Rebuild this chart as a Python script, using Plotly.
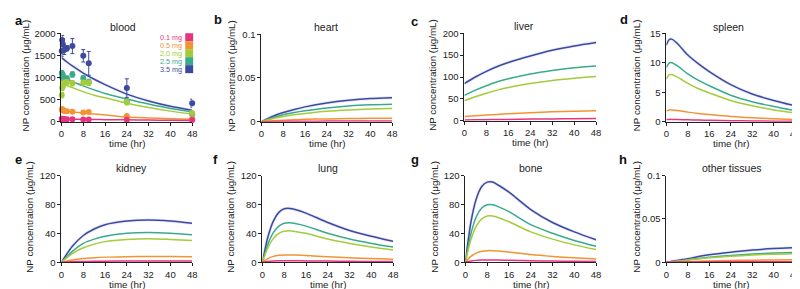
import plotly.graph_objects as go

W, H = 800, 289
FONT = "Liberation Sans"

doses = ["0.1 mg", "0.5 mg", "2.0 mg", "2.5 mg", "3.5 mg"]
colors = ["#E8337E", "#F39332", "#A3CB3B", "#3AAA8D", "#3B4A9F"]

# ---- blood observed data ----
t_obs = [0.083, 0.25, 0.5, 1, 2, 4, 8, 10, 24, 48]
blood_obs = {
    "0.1 mg": [70, 65, 62, 60, 58, 55, 50, 50, 45, 42],
    "0.5 mg": [270, 290, 260, 240, 235, 225, 210, 220, 130, 60],
    "2.0 mg": [600, 760, 800, 880, 900, 870, 880, 880, 440, 200],
    "2.5 mg": [1100, 1000, 1050, 950, 980, 1070, 980, 900, 460, 170],
    "3.5 mg": [1600, 1850, 1750, 1620, 1660, 1710, 1490, 1320, 760, 420],
}
blood_err = {
    "0.1 mg": [10, 10, 10, 10, 10, 10, 10, 10, 10, 10],
    "0.5 mg": [30, 30, 30, 30, 20, 20, 20, 20, 30, 20],
    "2.0 mg": [60, 60, 60, 60, 50, 60, 60, 60, 60, 40],
    "2.5 mg": [60, 60, 60, 60, 50, 60, 60, 60, 60, 40],
    "3.5 mg": [120, 100, 120, 100, 60, 170, 140, 270, 210, 90],
}

# ---- model curves ----
t_blood = [0, 2, 4, 8, 12, 16, 24, 32, 40, 48]
blood_fit = {
    "0.1 mg": [60, 58, 56, 53, 50, 47, 43, 38, 34, 30],
    "0.5 mg": [260, 240, 225, 195, 175, 155, 105, 85, 70, 58],
    "2.0 mg": [880, 820, 770, 680, 600, 540, 420, 320, 240, 175],
    "2.5 mg": [1030, 970, 910, 810, 720, 640, 515, 400, 300, 225],
    "3.5 mg": [1450, 1350, 1260, 1100, 960, 840, 625, 470, 350, 260],
}

t_rise = [0, 4, 8, 12, 16, 24, 32, 40, 48]
heart_fit = {
    "0.1 mg": [0, 0.0002, 0.0004, 0.0005, 0.0006, 0.0007, 0.0008, 0.0008, 0.0008],
    "0.5 mg": [0, 0.001, 0.0017, 0.0022, 0.0027, 0.0032, 0.0036, 0.0039, 0.004],
    "2.0 mg": [0, 0.0035, 0.006, 0.008, 0.0095, 0.012, 0.0135, 0.0145, 0.015],
    "2.5 mg": [0, 0.0045, 0.008, 0.0105, 0.0125, 0.0158, 0.018, 0.0193, 0.020],
    "3.5 mg": [0, 0.006, 0.0105, 0.014, 0.017, 0.0215, 0.0245, 0.0265, 0.0275],
}
liver_fit = {
    "0.1 mg": [2, 2.3, 2.6, 2.9, 3.2, 3.8, 4.3, 4.7, 5],
    "0.5 mg": [10, 11.5, 13, 14.5, 16, 18.5, 20.5, 22, 23],
    "2.0 mg": [46, 55, 63, 70, 76, 85, 92, 97, 101],
    "2.5 mg": [58, 70, 80, 89, 96, 107, 115, 121, 125],
    "3.5 mg": [85, 100, 113, 124, 133, 148, 161, 171, 179],
}
kidney_fit = {
    "0.1 mg": [0, 0.6, 1, 1.2, 1.4, 1.6, 1.6, 1.6, 1.5],
    "0.5 mg": [0, 3, 5, 6.2, 7, 7.7, 8, 7.9, 7.5],
    "2.0 mg": [0, 12, 20, 25, 28.5, 31.5, 32.5, 31.5, 30],
    "2.5 mg": [0, 15, 26, 32, 36, 40, 41, 40, 38],
    "3.5 mg": [0, 22, 37, 46, 52, 57, 58.5, 57, 54],
}
other_fit = {
    "0.1 mg": [0, 0.0001, 0.0002, 0.0003, 0.0004, 0.0005, 0.0005, 0.0006, 0.0006],
    "0.5 mg": [0, 0.0003, 0.0007, 0.0011, 0.0014, 0.0019, 0.0023, 0.0026, 0.0028],
    "2.0 mg": [0, 0.0012, 0.0024, 0.0038, 0.005, 0.0068, 0.0082, 0.0092, 0.0098],
    "2.5 mg": [0, 0.0014, 0.0028, 0.0044, 0.0058, 0.0078, 0.0095, 0.0107, 0.0114],
    "3.5 mg": [0, 0.002, 0.004, 0.0065, 0.0085, 0.0115, 0.014, 0.0157, 0.0167],
}

t_spleen = [0, 1, 2, 4, 8, 12, 16, 24, 32, 40, 48]
spleen_fit = {
    "0.1 mg": [0.37, 0.4, 0.4, 0.38, 0.33, 0.28, 0.24, 0.18, 0.14, 0.1, 0.08],
    "0.5 mg": [1.8, 2.0, 2.0, 1.9, 1.63, 1.4, 1.22, 0.9, 0.68, 0.5, 0.38],
    "2.0 mg": [7.2, 7.95, 8.0, 7.6, 6.5, 5.6, 4.9, 3.6, 2.7, 2.0, 1.5],
    "2.5 mg": [9.2, 9.95, 10.0, 9.5, 8.1, 7.0, 6.1, 4.5, 3.4, 2.6, 1.9],
    "3.5 mg": [13.0, 13.9, 14.0, 13.3, 11.3, 9.8, 8.5, 6.3, 4.7, 3.6, 2.7],
}

t_peak = [0, 2, 4, 6, 8, 10, 12, 16, 24, 32, 40, 48]
lung_fit = {
    "0.1 mg": [0, 1, 1.6, 1.9, 2, 2, 2, 1.8, 1.5, 1.2, 1, 0.8],
    "0.5 mg": [0, 5, 8, 9.5, 10, 10, 9.8, 9.2, 7.5, 6, 5, 4],
    "2.0 mg": [0, 20, 33, 40, 43, 43.5, 42.5, 40, 32, 26, 21, 17],
    "2.5 mg": [0, 25, 41, 50, 54, 54.5, 53.5, 50, 40, 32, 26, 21],
    "3.5 mg": [0, 35, 57, 69, 74, 74.5, 73, 68, 55, 44, 36, 29],
}
bone_fit = {
    "0.1 mg": [0, 1.5, 2.5, 2.9, 3.1, 3.1, 3, 2.7, 2, 1.6, 1.2, 0.9],
    "0.5 mg": [0, 8, 12.5, 15, 16, 16, 15.5, 14, 10.5, 8, 6, 4.4],
    "2.0 mg": [0, 31, 50, 60, 64, 64, 62, 56, 42, 32, 24, 17.5],
    "2.5 mg": [0, 39, 63, 75, 79.5, 79.5, 77, 70, 52, 40, 30, 22],
    "3.5 mg": [0, 55, 88, 105, 111, 111, 107, 97, 73, 55, 42, 31],
}

panels = [
    ("a", "blood", t_blood, blood_fit, [0, 500, 1000, 1500, 2000], ["0", "500", "1000", "1500", "2000"], 2000),
    ("b", "heart", t_rise, heart_fit, [0, 0.05, 0.1], ["0", "0.05", "0.1"], 0.1),
    ("c", "liver", t_rise, liver_fit, [0, 50, 100, 150, 200], ["0", "50", "100", "150", "200"], 200),
    ("d", "spleen", t_spleen, spleen_fit, [0, 5, 10, 15], ["0", "5", "10", "15"], 15),
    ("e", "kidney", t_rise, kidney_fit, [0, 40, 80, 120], ["0", "40", "80", "120"], 120),
    ("f", "lung", t_peak, lung_fit, [0, 40, 80, 120], ["0", "40", "80", "120"], 120),
    ("g", "bone", t_peak, bone_fit, [0, 40, 80, 120], ["0", "40", "80", "120"], 120),
    ("h", "other tissues", t_rise, other_fit, [0, 0.05, 0.1], ["0", "0.05", "0.1"], 0.1),
]
x_ticks = [0, 8, 16, 24, 32, 40, 48]

# pixel layout of plot areas (left, right, top, bottom)
boxes = [
    (51, 183, 20, 112), (253, 385, 21, 112), (458, 591, 20, 111), (662, 792, 20, 112),
    (51, 183, 168, 258), (254, 386, 168, 258), (459, 591, 168, 258), (662, 792, 168, 258),
]
ytitle_x = [15, 222, 425, 632, 19, 222, 428, 632]
title_pos = [(113, 13), (318, 13), (518, 12), (725, 13), (122, 160), (320, 160), (525, 160), (728, 160)]
letter_pos = [(2, 7), (203, 6), (402, 8), (613, 6), (2, 151), (202, 151), (402, 151), (612, 151)]

def px(x):
    return x / W

def py(y):
    return 1 - y / H

fig = go.Figure()
annotations = []
shapes = []
layout = {}

for i, (letter, name, tt, fits, yt, ytt, ymax) in enumerate(panels):
    k = i + 1
    xa = "x" if k == 1 else f"x{k}"
    ya = "y" if k == 1 else f"y{k}"
    l, r, t, b = boxes[i]
    layout["xaxis" if k == 1 else f"xaxis{k}"] = dict(
        domain=[px(l), px(r)], range=[0, 48], anchor=ya,
        tickvals=x_ticks, ticks="outside", ticklen=3, tickwidth=1, tickcolor="#222",
        showline=True, linecolor="#222", linewidth=1, showgrid=False, zeroline=False,
        tickfont=dict(family=FONT, size=9.5, color="#222"),
    )
    layout["yaxis" if k == 1 else f"yaxis{k}"] = dict(
        domain=[py(b), py(t)], range=[0, ymax], anchor=xa,
        tickvals=yt, ticktext=ytt, ticks="outside", ticklen=3, tickwidth=1, tickcolor="#222",
        showline=True, linecolor="#222", linewidth=1, showgrid=False, zeroline=False,
        tickfont=dict(family=FONT, size=9.5, color="#222"),
    )
    # faint confidence band under the highest dose
    fig.add_trace(go.Scatter(x=tt, y=fits["3.5 mg"], mode="lines", xaxis=xa, yaxis=ya,
                             line=dict(color="rgba(90,100,200,0.14)", width=3.2, shape="spline", smoothing=0.8),
                             showlegend=False, hoverinfo="skip", cliponaxis=False))
    for d, c in zip(doses[::-1], colors[::-1]):
        fig.add_trace(go.Scatter(x=tt, y=fits[d], mode="lines", xaxis=xa, yaxis=ya,
                                 line=dict(color=c, width=1.5, shape="spline", smoothing=0.8),
                                 showlegend=False, cliponaxis=False))
    if name == "blood":
        for d, c in zip(doses[::-1], colors[::-1]):
            fig.add_trace(go.Scatter(x=t_obs, y=blood_obs[d], mode="markers", xaxis=xa, yaxis=ya,
                                     marker=dict(color=c, size=6),
                                     error_y=dict(type="data", array=blood_err[d], color=c, thickness=1, width=2),
                                     showlegend=False, cliponaxis=False))
    # text
    annotations.append(dict(text=name, x=px(title_pos[i][0]), y=py(title_pos[i][1]), xref="paper", yref="paper",
                            showarrow=False, xanchor="center", yanchor="middle",
                            font=dict(family=FONT, size=10.5, color="#222")))
    annotations.append(dict(text=f"<b>{letter}</b>", x=px(letter_pos[i][0]), y=py(letter_pos[i][1]), xref="paper",
                            yref="paper", showarrow=False, xanchor="left", yanchor="middle",
                            font=dict(family=FONT, size=13, color="#111")))
    annotations.append(dict(text="NP concentration (μg/mL)", x=px(ytitle_x[i]), y=py((t + b) / 2 - 2),
                            xref="paper", yref="paper", showarrow=False, textangle=-90,
                            xanchor="center", yanchor="middle",
                            font=dict(family=FONT, size=9.8, color="#222")))
    annotations.append(dict(text="time (hr)", x=px((l + r) / 2), y=py(b + 23), xref="paper", yref="paper",
                            showarrow=False, xanchor="center", yanchor="middle",
                            font=dict(family=FONT, size=9.8, color="#222")))

# legend in the blood panel (text + colour swatches)
leg_top = 20
row_h = 8.3
for j, (d, c) in enumerate(zip(doses, colors)):
    y0 = leg_top + j * row_h
    shapes.append(dict(type="rect", xref="paper", yref="paper", x0=px(176), x1=px(184),
                       y0=py(y0 + row_h), y1=py(y0), fillcolor=c, line=dict(width=0)))
    annotations.append(dict(text=d, x=px(175), y=py(y0 + row_h / 2), xref="paper", yref="paper",
                            showarrow=False, xanchor="right", yanchor="middle",
                            font=dict(family=FONT, size=7.2, color=c)))

fig.update_layout(**layout)
fig.update_layout(width=W, height=H, margin=dict(l=0, r=0, t=0, b=0),
                  plot_bgcolor="white", paper_bgcolor="white",
                  annotations=annotations, shapes=shapes, showlegend=False)
fig.write_html("out.html")
